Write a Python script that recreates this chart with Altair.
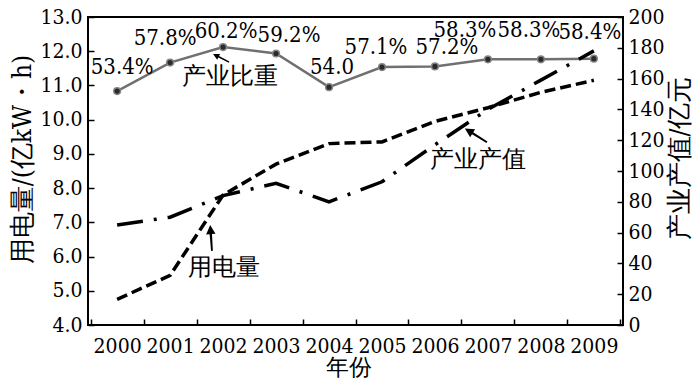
import altair as alt
import pandas as pd

years = ["2000", "2001", "2002", "2003", "2004", "2005", "2006", "2007", "2008", "2009"]
usage = [4.75, 5.45, 7.8, 8.7, 9.3, 9.35, 9.95, 10.35, 10.8, 11.15]          # 用电量 (亿kW·h)
value = [65, 70, 84, 92, 80, 93, 117, 140, 159, 178]                          # 产业产值 (亿元)
share = [53.4, 57.8, 60.2, 59.2, 54.0, 57.1, 57.2, 58.3, 58.3, 58.4]          # 产业比重 (%)
share_labels = ["53.4%", "57.8%", "60.2%", "59.2%", "54.0", "57.1%", "57.2%", "58.3%", "58.3%", "58.4%"]
left_ticks = [4, 5, 6, 7, 8, 9, 10, 11, 12, 13]
right_ticks = [0, 20, 40, 60, 80, 100, 120, 140, 160, 180, 200]

df = pd.DataFrame({"year": years, "usage": usage, "value": value,
                   "share": share, "share_label": share_labels})

FONT = "DejaVu Serif Condensed, DejaVu Serif, serif"
ARROW = "M-1,0L-0.3,-0.36L-0.3,-0.09L1,-0.07L1,0.07L-0.3,0.09L-0.3,0.36Z"

# hand-placed label nudges (style only), in pixels, per year
LABEL_NUDGE = {"2000": (5, -24), "2001": (-5, -25), "2002": (3, -16), "2003": (13, -18),
               "2004": (3, -20), "2005": (-6, -20), "2006": (12, -19), "2007": (-23, -29),
               "2008": (-12, -29), "2009": (-4, -27)}

base = alt.Chart(df)

x = alt.X("year:O",
          scale=alt.Scale(type="band", paddingInner=0, paddingOuter=0.05),
          axis=alt.Axis(title="年份", offset=-6, tickSize=6, domain=False,
                        tickBand="extent", labelAngle=0, labelPadding=10,
                        titleX=260, titleY=48, titleBaseline="middle",
                        titleFontSize=23))

# ---- 产业比重 (hidden scale) ----
y_share = alt.Y("share:Q", scale=alt.Scale(domain=[17.24, 64.84], nice=False, zero=False), axis=None)
share_line = base.mark_line(color="#707070", strokeWidth=2.5).encode(x=x, y=y_share)
share_pts = base.mark_point(shape="circle", filled=True, size=45, color="#2a2a2a",
                            stroke="#858585", strokeWidth=1.5, opacity=1).encode(x=x, y=y_share)
share_txts = [
    base.transform_filter(alt.datum.year == yr).mark_text(
        dx=LABEL_NUDGE[yr][0], dy=LABEL_NUDGE[yr][1], fontSize=22, font=FONT, color="black"
    ).encode(x=x, y=y_share, text="share_label:N")
    for yr in years
]
share_ann = base.transform_filter(alt.datum.year == "2002").mark_text(
    text="产业比重", dx=7, dy=30, fontSize=24, font=FONT, color="black").encode(x=x, y=y_share)
share_arrow = base.transform_filter(alt.datum.year == "2002").mark_point(
    shape=ARROW, filled=True, color="black", opacity=1, size=324, angle=27,
    xOffset=-2, yOffset=11).encode(x=x, y=y_share)
share_layer = alt.layer(share_line, share_pts, *share_txts, share_ann, share_arrow)

# ---- 用电量 (left axis) ----
y_usage = alt.Y("usage:Q", scale=alt.Scale(domain=[4, 13], nice=False, zero=False),
                axis=alt.Axis(orient="left", values=left_ticks, format=".1f",
                              title="用电量/(亿kW・h)", offset=-6, tickSize=6, domain=False,
                              labelPadding=6, titleX=-72, titleY=142, titleAngle=270,
                              titleBaseline="middle", grid=False))
usage_line = base.mark_line(color="black", strokeWidth=3.5, strokeDash=[11, 5]).encode(x=x, y=y_usage)
usage_ann = base.transform_filter(alt.datum.year == "2002").mark_text(
    text="用电量", dx=1, dy=73, fontSize=24, font=FONT, color="black").encode(x=x, y=y_usage)
usage_arrow = base.transform_filter(alt.datum.year == "2002").mark_point(
    shape=ARROW, filled=True, color="black", opacity=1, size=676, angle=86,
    xOffset=-12, yOffset=43).encode(x=x, y=y_usage)
usage_layer = alt.layer(usage_line, usage_ann, usage_arrow)

# ---- 产业产值 (right axis) ----
y_value = alt.Y("value:Q", scale=alt.Scale(domain=[0, 200], nice=False),
                axis=alt.Axis(orient="right", values=right_ticks,
                              title="产业产值/亿元", offset=-6, tickSize=6, domain=False,
                              labelPadding=5, titleX=62, titleY=141, titleAngle=270,
                              titleBaseline="middle", grid=False))
value_line = base.mark_line(color="black", strokeWidth=3.5,
                            strokeDash=[26, 11, 3, 11]).encode(x=x, y=y_value)
value_ann = base.transform_filter(alt.datum.year == "2007").mark_text(
    text="产业产值", dx=-10, dy=51, fontSize=24, font=FONT, color="black").encode(x=x, y=y_value)
value_arrow = base.transform_filter(alt.datum.year == "2007").mark_point(
    shape=ARROW, filled=True, color="black", opacity=1, size=676, angle=32,
    xOffset=-12, yOffset=26).encode(x=x, y=y_value)
value_layer = alt.layer(value_line, value_ann, value_arrow)

chart = alt.layer(share_layer, usage_layer, value_layer).resolve_scale(
    y="independent"
).properties(
    width=535, height=308,
    autosize=alt.AutoSizeParams(type="none"),
    padding={"left": 80, "top": 9, "right": 69, "bottom": 53},
    background="white",
).configure_view(
    stroke="black", strokeWidth=2
).configure_axis(
    labelFont=FONT, labelFontSize=21, labelColor="black",
    titleFont=FONT, titleFontSize=26, titleFontWeight="normal", titleColor="black",
    tickColor="black", tickWidth=1.5, grid=False
)

chart.save("out.html", embed_options={"renderer": "svg", "actions": False})
